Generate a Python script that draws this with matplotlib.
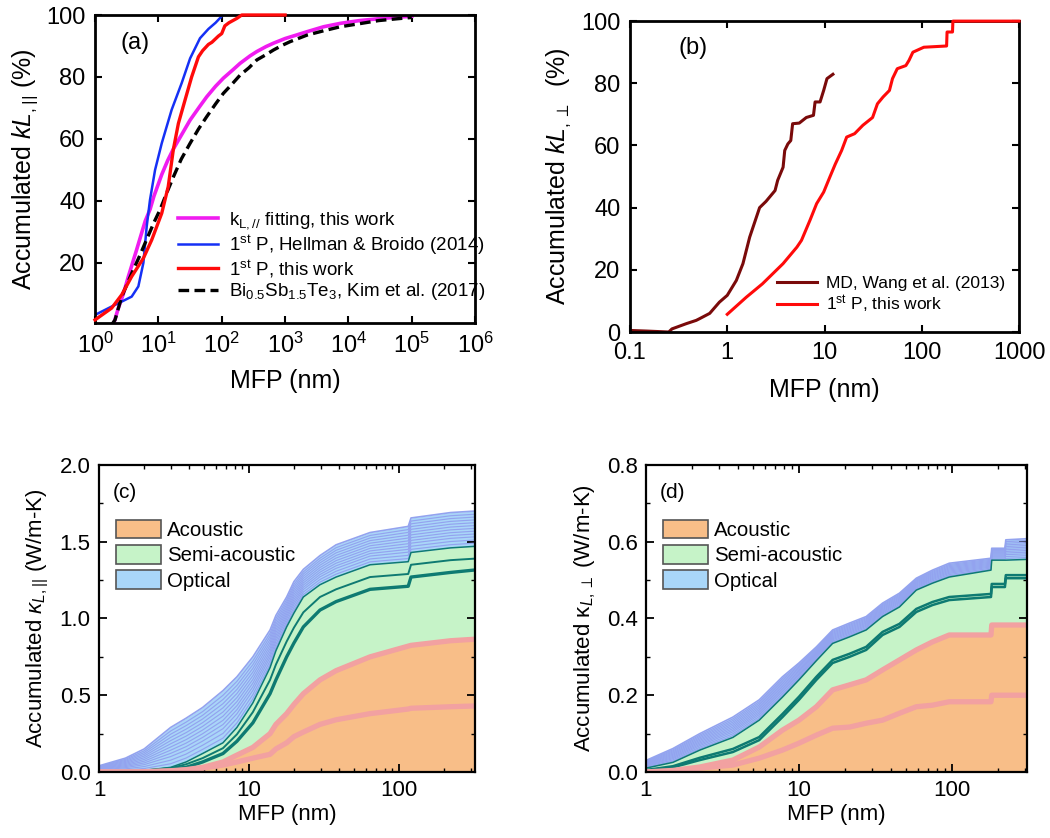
import numpy as np
import matplotlib
matplotlib.use("Agg")
import matplotlib.pyplot as plt
from matplotlib.patches import Patch
from matplotlib.ticker import LogLocator, NullFormatter, MultipleLocator

plt.rcParams['font.family'] = ['Liberation Sans', 'DejaVu Sans']
plt.rcParams['mathtext.fontset'] = 'custom'
plt.rcParams['mathtext.rm'] = 'Liberation Sans'
plt.rcParams['mathtext.it'] = 'Liberation Sans:italic'
plt.rcParams['mathtext.bf'] = 'Liberation Sans:bold'

# ---------------- Panel (a) data ----------------
a_fit_x = [1.95, 2.3, 2.8, 3.36, 4.5, 6.2, 7.4, 8.5, 11.3, 14, 17.3, 22, 31.7, 45, 58, 80, 106, 150, 195,
           280, 358, 500, 656, 1000, 1440, 2212, 4044, 7420, 1.5e4, 3e4, 6e4, 1e5]
a_fit_y = [0, 5, 10, 15.6, 24, 33.5, 37.3, 41.5, 48.5, 53, 56.8, 60.5, 66.1, 70.5, 73.6, 77, 79.6, 82.3, 84.4,
           86.8, 88.2, 89.8, 90.9, 92.4, 93.4, 94.6, 96.2, 97.3, 98.2, 98.8, 99.3, 99.6]

a_hb_x = [1.0, 1.83, 2.64, 3.79, 4.83, 5.8, 6.54, 7.37, 8.87, 11.3, 16.2, 23.3, 31.7, 45.4, 61.7, 80, 100, 106]
a_hb_y = [3.2, 5.9, 7.5, 9.1, 12.4, 20, 31.7, 40.3, 50, 58.6, 69.4, 78, 86.0, 92.5, 95.5, 97.5, 99.6, 100]

a_tw_x = [1.0, 1.83, 2.64, 3.79, 5.8, 7.85, 11.3, 14.3, 17.2, 20.7, 26.4, 33.5, 42.9, 50, 61.6, 70, 88.7, 100,
          112, 130, 173, 207, 1000]
a_tw_y = [1.6, 5.4, 9.7, 15.6, 21.5, 27.4, 36, 44.6, 56.5, 65, 72.6, 80, 86.5, 88.5, 90.5, 91.2, 93.2, 94,
          96.5, 97.5, 98.9, 100, 100]

a_kim_x = [1.83, 2.07, 2.64, 3.79, 5, 6.15, 8.5, 10.6, 13.5, 17.3, 23, 31.7, 43, 58, 80, 106, 150, 195, 270,
           358, 500, 656, 900, 1203, 2212, 4044, 7420, 1.5e4, 3e4, 6e4, 1e5]
a_kim_y = [0, 1.6, 9.1, 16.6, 22, 26.3, 33, 37.1, 42.5, 47.8, 53.5, 58.6, 63.2, 67.2, 71.3, 74.7, 78, 80.6, 83,
           85.5, 87.2, 88.7, 90.2, 91.4, 93.5, 94.9, 96.2, 97.2, 98.2, 98.8, 99.2]

a_labels = [r'k$_{\mathrm{L,//}}$ fitting, this work',
            r'1$^{\mathrm{st}}$ P, Hellman & Broido (2014)',
            r'1$^{\mathrm{st}}$ P, this work',
            r'Bi$_{\mathrm{0.5}}$Sb$_{\mathrm{1.5}}$Te$_{\mathrm{3}}$, Kim et al. (2017)']

# ---------------- Panel (b) data ----------------
b_md_x = [0.1, 0.15, 0.25, 0.27, 0.38, 0.48, 0.52, 0.66, 0.83, 1.0, 1.24, 1.45, 1.7, 1.9, 2.15,
          2.5, 3.1, 3.3, 3.75, 3.9, 4.2, 4.5, 4.7, 5.5, 6.5, 7.7, 8.0, 9.0, 9.8, 10.6, 12.2]
b_md_y = [0.5, 0.3, 0.0, 1.0, 2.7, 3.75, 4.3, 6.0, 9.6, 11.8, 16.6, 22.0, 30.5, 35.0, 40.0,
          42.0, 45.5, 48.8, 53.0, 58.4, 60.5, 61.6, 67.0, 67.2, 69.0, 69.7, 74.0, 74.0, 77.7, 81.5, 82.9]

b_p_x = [1.0, 1.57, 2.3, 3.75, 5.2, 5.8, 7.1, 8.3, 9.8, 11.4, 12.9, 15, 16.9, 20.4, 24.8, 31.2, 35,
         40, 46.5, 50, 56, 68.6, 74, 81, 105, 180, 182, 207, 209, 1000]
b_p_y = [5.7, 11.2, 15.5, 22, 27.3, 29.5, 36, 41.3, 45, 50, 54, 58.4, 62.7, 63.8, 66.5, 69, 73.4,
         75.6, 77.7, 81.5, 84.7, 85.7, 87.4, 90, 91.6, 92, 96.5, 96.5, 100, 100]
b_labels = ['MD, Wang et al. (2013)', r'1$^{\mathrm{st}}$ P, this work']

# ---------------- Panel (c) data ----------------
c_x = [1, 1.5, 2, 3, 3.8, 4.9, 6.7, 8.3, 10.6, 13.8, 15.1, 17.8, 19.9, 23, 29.7, 38, 64, 115, 120, 220, 320]
c_opt_top = [0.04, 0.09, 0.15, 0.29, 0.35, 0.42, 0.53, 0.62, 0.75, 0.925, 1.02, 1.14, 1.24, 1.32, 1.41, 1.48, 1.56, 1.60, 1.655, 1.69, 1.70]
c_semi_top = [0.0, 0.005, 0.01, 0.03, 0.065, 0.12, 0.19, 0.29, 0.45, 0.68, 0.79, 0.945, 1.035, 1.14, 1.22, 1.27, 1.35, 1.37, 1.43, 1.46, 1.47]
c_semi_mid = [0.0, 0.004, 0.008, 0.025, 0.05, 0.09, 0.155, 0.245, 0.39, 0.6, 0.7, 0.85, 0.94, 1.04, 1.14, 1.19, 1.27, 1.29, 1.35, 1.38, 1.39]
c_semi_bot = [0.0, 0.003, 0.006, 0.02, 0.03, 0.065, 0.12, 0.20, 0.32, 0.51, 0.60, 0.75, 0.84, 0.945, 1.055, 1.11, 1.19, 1.21, 1.27, 1.30, 1.316]
c_ac_top = [0.0, 0.0, 0.002, 0.008, 0.015, 0.03, 0.065, 0.11, 0.16, 0.25, 0.31, 0.38, 0.44, 0.51, 0.60, 0.66, 0.75, 0.82, 0.825, 0.855, 0.865]
c_ac_low = [0.0, 0.0, 0.0, 0.005, 0.013, 0.025, 0.045, 0.065, 0.09, 0.115, 0.15, 0.19, 0.23, 0.26, 0.31, 0.34, 0.38, 0.41, 0.415, 0.425, 0.43]

# ---------------- Panel (d) data ----------------
d_x = [1, 1.5, 2.25, 3.7, 5.5, 7.8, 10, 13, 16.6, 21.4, 27.5, 35.2, 45.4, 58.5, 74.6, 96, 180, 182, 222, 225, 310]
d_opt_top = [0.03, 0.061, 0.10, 0.143, 0.188, 0.248, 0.284, 0.326, 0.37, 0.388, 0.405, 0.44, 0.466, 0.505, 0.526, 0.544, 0.557, 0.583, 0.583, 0.605, 0.608]
d_semi_top = [0.01, 0.025, 0.057, 0.09, 0.135, 0.195, 0.24, 0.29, 0.335, 0.352, 0.37, 0.405, 0.43, 0.474, 0.492, 0.508, 0.526, 0.552, 0.552, 0.552, 0.554]
d_semi_b2 = [0.005, 0.015, 0.037, 0.06, 0.091, 0.151, 0.196, 0.248, 0.292, 0.308, 0.326, 0.365, 0.386, 0.425, 0.443, 0.456, 0.464, 0.49, 0.49, 0.513, 0.513]
d_semi_b1 = [0.004, 0.012, 0.031, 0.052, 0.083, 0.143, 0.188, 0.24, 0.284, 0.30, 0.318, 0.357, 0.378, 0.417, 0.435, 0.448, 0.456, 0.482, 0.482, 0.505, 0.505]
d_ac_top = [0.0, 0.004, 0.013, 0.031, 0.065, 0.109, 0.135, 0.17, 0.214, 0.227, 0.24, 0.266, 0.292, 0.318, 0.339, 0.357, 0.357, 0.383, 0.383, 0.383, 0.383]
d_ac_low = [0.0, 0.002, 0.01, 0.018, 0.036, 0.057, 0.075, 0.096, 0.114, 0.117, 0.127, 0.135, 0.153, 0.17, 0.174, 0.183, 0.183, 0.20, 0.20, 0.20, 0.20]

# cumulative share of the individual optical branches within the optical band
optical_shares = [0.09, 0.18, 0.27, 0.35, 0.43, 0.51, 0.59, 0.67, 0.75, 0.83, 0.91]

mode_labels = ['Acoustic', 'Semi-acoustic', 'Optical']

# ---------------- colours ----------------
C_MAG = '#F01CF0'
C_BLUE = '#1530F5'
C_RED = '#FF0A0A'
C_DRED = '#7A0A0A'
F_ORANGE = '#F8BE88'
F_GREEN = '#C6F3C8'
F_BLUE = '#A9D6F8'
L_PINK = '#F2A1A1'
L_TEAL = '#0E7A72'
L_OPT = '#93A3EF'

fig = plt.figure(figsize=(10.5, 8.38), dpi=100)

axa = fig.add_axes([0.0905, 0.6146, 0.362, 0.3675])
axb = fig.add_axes([0.600, 0.6038, 0.3705, 0.371])
axc = fig.add_axes([0.0943, 0.0788, 0.358, 0.3663])
axd = fig.add_axes([0.6152, 0.0788, 0.363, 0.3663])

# ---------- (a) ----------
axa.plot(a_fit_x, a_fit_y, color=C_MAG, lw=2.6, label=a_labels[0])
axa.plot(a_hb_x, a_hb_y, color=C_BLUE, lw=1.8, label=a_labels[1])
axa.plot(a_tw_x, a_tw_y, color=C_RED, lw=2.4, label=a_labels[2], zorder=11, clip_on=False)
axa.plot(a_kim_x, a_kim_y, color='black', lw=2.4, ls=(0, (3.2, 1.6)), label=a_labels[3])
axa.set_xscale('log')
axa.set_xlim(1, 1e6)
axa.set_ylim(0.6, 100)
axa.set_xticks([1, 1e1, 1e2, 1e3, 1e4, 1e5, 1e6])
axa.xaxis.set_minor_locator(plt.NullLocator())
axa.set_yticks([20, 40, 60, 80, 100])
axa.set_xlabel('MFP (nm)', fontsize=18, labelpad=8)
axa.set_ylabel(r'Accumulated $kL_{,||}$ (%)', fontsize=18, labelpad=4)
axa.text(0.066, 0.91, '(a)', transform=axa.transAxes, fontsize=17, va='center', ha='left')
axa.legend(loc='upper left', bbox_to_anchor=(0.218, 0.365), frameon=False, fontsize=13.5,
           handlelength=2.15, handletextpad=0.55, labelspacing=0.08, borderpad=0, borderaxespad=0)

# ---------- (b) ----------
axb.plot(b_md_x, b_md_y, color=C_DRED, lw=2.2, label=b_labels[0])
axb.plot(b_p_x, b_p_y, color=C_RED, lw=2.2, label=b_labels[1], zorder=11, clip_on=False)
axb.set_xscale('log')
axb.set_xlim(0.1, 1000)
axb.set_ylim(0, 100)
axb.set_xticks([0.1, 1, 10, 100, 1000])
axb.set_xticklabels(['0.1', '1', '10', '100', '1000'])
axb.xaxis.set_minor_locator(plt.NullLocator())
axb.set_yticks([0, 20, 40, 60, 80, 100])
axb.set_xlabel('MFP (nm)', fontsize=18, labelpad=10)
axb.set_ylabel(r'Accumulated $kL_{,\perp}$  (%)', fontsize=18, labelpad=6)
axb.text(0.125, 0.915, '(b)', transform=axb.transAxes, fontsize=17, va='center', ha='left')
axb.legend(loc='upper left', bbox_to_anchor=(0.378, 0.18), frameon=False, fontsize=12.5,
           handlelength=2.3, handletextpad=0.5, labelspacing=0.12, borderpad=0, borderaxespad=0)

for ax in (axa, axb):
    for s in ax.spines.values():
        s.set_linewidth(2.0)
    ax.tick_params(which='both', direction='in', top=True, right=True, length=5, width=1.5,
                   labelsize=17, pad=7)


# ---------- (c), (d) ----------
def stacked(ax, x, ac_low, ac_top, semi_lines, semi_widths, opt_top):
    x = np.asarray(x)
    ac_low = np.asarray(ac_low)
    ac_top = np.asarray(ac_top)
    semi_top = np.asarray(semi_lines[-1])
    opt_top = np.asarray(opt_top)
    ax.fill_between(x, 0, ac_top, color=F_ORANGE, lw=0, zorder=1)
    ax.fill_between(x, ac_top, semi_top, color=F_GREEN, lw=0, zorder=1)
    ax.fill_between(x, semi_top, opt_top, color=F_BLUE, lw=0, zorder=1)
    for s in optical_shares:
        ax.plot(x, semi_top + s * (opt_top - semi_top), color=L_OPT, lw=0.85, zorder=2)
    ax.plot(x, opt_top, color=L_OPT, lw=1.2, zorder=2)
    for yl, w in zip(semi_lines, semi_widths):
        ax.plot(x, yl, color=L_TEAL, lw=w, zorder=3)
    ax.plot(x, ac_low, color=L_PINK, lw=3.8, zorder=4, solid_capstyle='butt')
    ax.plot(x, ac_top, color=L_PINK, lw=3.8, zorder=4, solid_capstyle='butt')
    ax.set_xscale('log')
    ax.set_xticks([1, 10, 100])
    ax.set_xticklabels(['1', '10', '100'])
    ax.xaxis.set_minor_locator(LogLocator(base=10, subs=np.arange(2, 10), numticks=20))
    ax.xaxis.set_minor_formatter(NullFormatter())
    for s in ax.spines.values():
        s.set_linewidth(1.6)
        s.set_zorder(10)
    ax.tick_params(which='major', direction='in', top=True, right=True, length=6, width=1.3,
                   labelsize=16, pad=6)
    ax.tick_params(which='minor', direction='in', top=True, right=True, length=3, width=1.0)
    ax.set_xlabel('MFP (nm)', fontsize=16, labelpad=2)
    handles = [Patch(facecolor=F_ORANGE, edgecolor='#555555', lw=1.2),
               Patch(facecolor=F_GREEN, edgecolor='#555555', lw=1.2),
               Patch(facecolor=F_BLUE, edgecolor='#555555', lw=1.2)]
    ax.legend(handles, mode_labels, loc='upper left', bbox_to_anchor=(0.045, 0.822), frameon=False,
              fontsize=14.7, handlelength=2.2, handleheight=1.03, handletextpad=0.3,
              labelspacing=0.25, borderpad=0, borderaxespad=0)


stacked(axc, c_x, c_ac_low, c_ac_top, [c_semi_bot, c_semi_mid, c_semi_top], [2.4, 1.4, 1.1], c_opt_top)
axc.set_xlim(1, 320)
axc.set_ylim(0, 2.0)
axc.set_yticks([0.0, 0.5, 1.0, 1.5, 2.0])
axc.set_yticklabels(['0.0', '0.5', '1.0', '1.5', '2.0'])
axc.yaxis.set_minor_locator(MultipleLocator(0.25))
axc.set_ylabel(r'Accumulated $\kappa_{L,||}$ (W/m-K)', fontsize=16, labelpad=6)
axc.text(0.037, 0.912, '(c)', transform=axc.transAxes, fontsize=15, va='center', ha='left')

stacked(axd, d_x, d_ac_low, d_ac_top, [d_semi_b1, d_semi_b2, d_semi_top], [1.8, 1.8, 1.1], d_opt_top)
axd.set_xlim(1, 310)
axd.set_ylim(0, 0.8)
axd.set_yticks([0.0, 0.2, 0.4, 0.6, 0.8])
axd.set_yticklabels(['0.0', '0.2', '0.4', '0.6', '0.8'])
axd.yaxis.set_minor_locator(MultipleLocator(0.1))
axd.set_ylabel(r'Accumulated κ$_{L,\perp}$ (W/m-K)', fontsize=16, labelpad=6)
axd.text(0.037, 0.912, '(d)', transform=axd.transAxes, fontsize=15, va='center', ha='left')

fig.savefig('out.png', dpi=100)
